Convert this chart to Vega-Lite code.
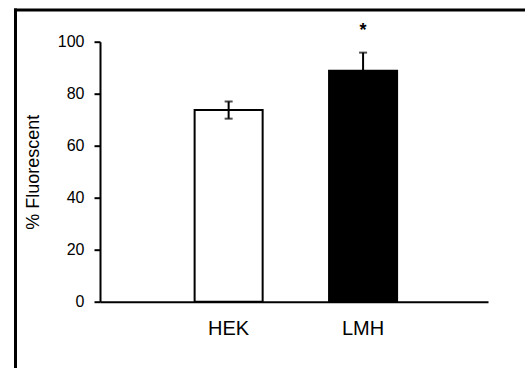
{
  "$schema": "https://vega.github.io/schema/vega-lite/v6.json",
  "width": 388,
  "height": 260,
  "autosize": "none",
  "padding": {"left": 100, "top": 41.7, "right": 37, "bottom": 66.3},
  "background": "white",
  "config": {"view": {"stroke": null}, "font": "Liberation Sans"},
  "data": {
    "values": [
      {"cell": "HEK", "value": 73.7, "lower": 70.4, "upper": 77.0, "sig": ""},
      {"cell": "LMH", "value": 88.8, "lower": 81.8, "upper": 95.8, "sig": "*"}
    ]
  },
  "layer": [
    {
      "encoding": {
        "x": {
          "field": "cell",
          "type": "nominal",
          "sort": ["HEK", "LMH"],
          "scale": {"paddingInner": 0.494, "paddingOuter": 0.69, "align": 0.51},
          "axis": {
            "title": null,
            "labelAngle": 0,
            "ticks": false,
            "tickSize": 0,
            "domainWidth": 2,
            "domainColor": "black",
            "labelFontSize": 20,
            "labelColor": "black",
            "labelPadding": 17,
            "grid": false
          }
        }
      },
      "layer": [
        {
          "mark": {"type": "bar", "stroke": "black", "strokeWidth": 2},
          "encoding": {
            "y": {
              "field": "value",
              "type": "quantitative",
              "scale": {"domain": [0, 100], "nice": false},
              "axis": {
                "values": [0, 20, 40, 60, 80, 100],
                "title": "% Fluorescent",
                "titleFontSize": 18,
                "titleFontWeight": "normal",
                "titleColor": "black",
                "titlePadding": 15,
                "tickSize": 6,
                "tickWidth": 2,
                "tickColor": "black",
                "domainWidth": 2,
                "domainColor": "black",
                "labelFontSize": 16,
                "labelColor": "black",
                "labelPadding": 10,
                "grid": false
              }
            },
            "fill": {
              "field": "cell",
              "type": "nominal",
              "scale": {"domain": ["HEK", "LMH"], "range": ["white", "black"]},
              "legend": null
            }
          }
        },
        {
          "mark": {"type": "rule", "color": "black", "strokeWidth": 2},
          "encoding": {
            "y": {"field": "lower", "type": "quantitative"},
            "y2": {"field": "upper"}
          }
        },
        {
          "mark": {"type": "tick", "color": "black", "size": 8, "thickness": 2},
          "encoding": {"y": {"field": "upper", "type": "quantitative"}}
        },
        {
          "mark": {"type": "tick", "color": "black", "size": 8, "thickness": 2},
          "encoding": {"y": {"field": "lower", "type": "quantitative"}}
        },
        {
          "mark": {"type": "text", "color": "black", "fontSize": 18, "fontWeight": "bold", "baseline": "middle", "dy": -22},
          "encoding": {
            "y": {"field": "upper", "type": "quantitative"},
            "text": {"field": "sig"}
          }
        }
      ]
    },
    {
      "mark": {"type": "point", "opacity": 0},
      "encoding": {
        "x": {
          "field": "cell",
          "type": "nominal",
          "scale": {"range": [-85, 425]},
          "axis": {"orient": "top", "offset": 32.2, "labels": false, "ticks": false, "title": null, "domainWidth": 3, "domainColor": "black", "domainCap": "square", "grid": false}
        },
        "y": {
          "field": "value",
          "type": "quantitative",
          "scale": {"range": [326.3, -32.2]},
          "axis": {"orient": "left", "offset": 85, "labels": false, "ticks": false, "title": null, "domainWidth": 3, "domainColor": "black", "domainCap": "square", "grid": false}
        }
      }
    }
  ],
  "resolve": {"scale": {"x": "independent", "y": "independent", "fill": "independent"}, "axis": {"x": "independent", "y": "independent"}}
}
